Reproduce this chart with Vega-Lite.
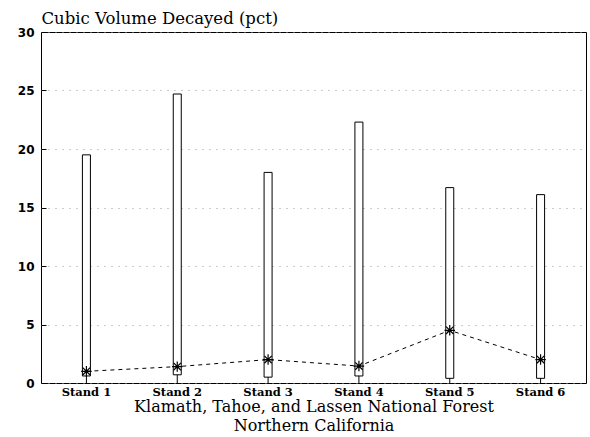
{
  "$schema": "https://vega.github.io/schema/vega-lite/v6.json",
  "width": 545,
  "height": 351,
  "autosize": {"type": "none"},
  "padding": {"left": 41, "top": 32, "right": 4, "bottom": 54},
  "background": "white",
  "config": {
    "view": {"stroke": "black", "strokeWidth": 1},
    "font": "DejaVu Serif"
  },
  "data": {
    "values": [
      {"stand": "Stand 1", "low": 0.6, "high": 19.5, "mean": 1.0},
      {"stand": "Stand 2", "low": 0.7, "high": 24.7, "mean": 1.4},
      {"stand": "Stand 3", "low": 0.5, "high": 18.0, "mean": 2.0},
      {"stand": "Stand 4", "low": 0.6, "high": 22.3, "mean": 1.45},
      {"stand": "Stand 5", "low": 0.4, "high": 16.7, "mean": 4.5},
      {"stand": "Stand 6", "low": 0.4, "high": 16.1, "mean": 2.0}
    ]
  },
  "encoding": {
    "x": {
      "field": "stand",
      "type": "nominal",
      "sort": null,
      "scale": {"paddingInner": 0, "paddingOuter": 0},
      "axis": {
        "labelAngle": 0,
        "labelFont": "DejaVu Serif",
        "labelFontWeight": "bold",
        "labelFontSize": 11.5,
        "labelColor": "black",
        "labelPadding": 3,
        "ticks": false,
        "domain": false,
        "title": ["Klamath, Tahoe, and Lassen National Forest", "Northern California"],
        "titleFont": "DejaVu Serif",
        "titleFontWeight": "normal",
        "titleFontSize": 16,
        "titleColor": "black",
        "titleLineHeight": 19,
        "titlePadding": 1
      }
    }
  },
  "layer": [
    {
      "mark": {"type": "bar", "fill": "white", "stroke": "black", "strokeWidth": 1, "size": 8},
      "encoding": {
        "y": {
          "field": "low",
          "type": "quantitative",
          "scale": {"domain": [0, 30], "nice": false},
          "axis": {
            "values": [0, 5, 10, 15, 20, 25, 30],
            "grid": true,
            "gridColor": "#999999",
            "gridDash": [1, 6],
            "gridWidth": 1,
            "tickSize": -5,
            "tickColor": "black",
            "domain": false,
            "labelFont": "DejaVu Sans",
            "labelFontWeight": "bold",
            "labelFontSize": 12,
            "labelColor": "black",
            "labelPadding": 12,
            "title": "Cubic Volume Decayed (pct)",
            "titleAngle": 0,
            "titleAlign": "left",
            "titleBaseline": "alphabetic",
            "titleX": 0,
            "titleY": -9,
            "titleFont": "DejaVu Serif",
            "titleFontWeight": "normal",
            "titleFontSize": 16.5,
            "titleColor": "black"
          }
        },
        "y2": {"field": "high"}
      }
    },
    {
      "mark": {"type": "rule", "color": "black", "strokeWidth": 1},
      "encoding": {
        "y": {"field": "low", "type": "quantitative"},
        "y2": {"datum": 0}
      }
    },
    {
      "mark": {"type": "line", "color": "black", "strokeWidth": 1, "strokeDash": [4, 4]},
      "encoding": {
        "y": {"field": "mean", "type": "quantitative"}
      }
    },
    {
      "mark": {
        "type": "point",
        "shape": "M-1,0L1,0M0,-1L0,1M-0.7,-0.7L0.7,0.7M-0.7,0.7L0.7,-0.7",
        "size": 110,
        "stroke": "black",
        "strokeWidth": 1.2,
        "filled": false,
        "opacity": 1
      },
      "encoding": {
        "y": {"field": "mean", "type": "quantitative"}
      }
    }
  ]
}
